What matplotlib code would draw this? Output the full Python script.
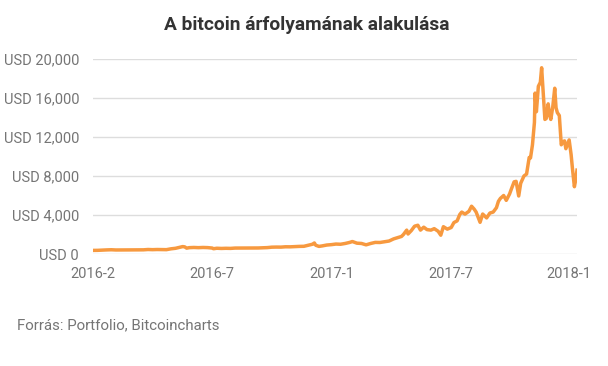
import pandas as pd
import matplotlib
matplotlib.use("Agg")
from matplotlib import pyplot as plt

plt.rcParams['font.family'] = ['Roboto', 'DejaVu Sans']

dates = [
    "2016-02-01", "2016-02-08", "2016-02-15", "2016-02-22", "2016-02-29", "2016-03-07",
    "2016-03-14", "2016-03-21", "2016-03-28", "2016-04-04", "2016-04-11", "2016-04-18",
    "2016-04-25", "2016-05-02", "2016-05-09", "2016-05-16", "2016-05-23", "2016-05-30",
    "2016-06-06", "2016-06-13", "2016-06-17", "2016-06-20", "2016-06-23", "2016-06-27",
    "2016-07-04", "2016-07-11", "2016-07-18", "2016-07-25", "2016-08-01", "2016-08-03",
    "2016-08-08", "2016-08-15", "2016-08-22", "2016-08-29", "2016-09-05", "2016-09-12",
    "2016-09-19", "2016-09-26", "2016-10-03", "2016-10-10", "2016-10-17", "2016-10-24",
    "2016-10-31", "2016-11-07", "2016-11-14", "2016-11-21", "2016-11-28", "2016-12-05",
    "2016-12-12", "2016-12-19", "2016-12-26",
    "2017-01-01", "2017-01-04", "2017-01-06", "2017-01-11", "2017-01-16", "2017-01-23",
    "2017-01-30", "2017-02-06", "2017-02-13", "2017-02-20", "2017-02-27", "2017-03-03",
    "2017-03-10", "2017-03-17", "2017-03-24", "2017-03-31", "2017-04-07", "2017-04-14",
    "2017-04-21", "2017-04-28", "2017-05-05", "2017-05-12", "2017-05-17", "2017-05-20",
    "2017-05-25", "2017-05-27", "2017-06-01", "2017-06-06", "2017-06-11", "2017-06-15",
    "2017-06-20", "2017-06-25", "2017-07-01", "2017-07-06", "2017-07-12", "2017-07-16",
    "2017-07-20", "2017-07-26", "2017-08-01", "2017-08-05", "2017-08-10", "2017-08-14",
    "2017-08-17", "2017-08-22", "2017-08-28", "2017-09-01", "2017-09-05", "2017-09-08",
    "2017-09-14", "2017-09-18", "2017-09-24", "2017-09-29", "2017-10-04", "2017-10-09",
    "2017-10-12", "2017-10-15", "2017-10-20", "2017-10-24", "2017-10-29", "2017-11-01",
    "2017-11-05", "2017-11-08", "2017-11-12", "2017-11-15", "2017-11-20", "2017-11-24",
    "2017-11-28", "2017-11-30", "2017-12-03", "2017-12-06", "2017-12-07", "2017-12-09",
    "2017-12-12", "2017-12-15", "2017-12-17", "2017-12-20", "2017-12-22", "2017-12-24",
    "2017-12-27", "2017-12-29", "2017-12-31",
    "2018-01-03", "2018-01-06", "2018-01-08", "2018-01-10", "2018-01-13", "2018-01-16",
    "2018-01-18", "2018-01-21", "2018-01-23", "2018-01-28", "2018-01-31", "2018-02-02",
    "2018-02-05", "2018-02-07", "2018-02-09",
]
prices = [
    370, 375, 400, 420, 435, 412,
    415, 410, 420, 420, 423, 428,
    462, 445, 460, 455, 445, 530,
    585, 700, 760, 730, 600, 650,
    670, 650, 670, 655, 610, 540,
    590, 570, 585, 575, 608, 608,
    610, 605, 612, 618, 640, 655,
    700, 710, 705, 740, 735, 760,
    780, 790, 900,
    1000, 1130, 900, 780, 830, 920,
    960, 1020, 1000, 1080, 1190, 1280,
    1110, 1080, 940, 1080, 1190, 1180,
    1250, 1330, 1550, 1700, 1800, 2000,
    2450, 2050, 2400, 2850, 2950, 2450,
    2750, 2500, 2450, 2600, 2330, 1930,
    2800, 2550, 2720, 3220, 3400, 4050,
    4300, 4090, 4380, 4900, 4600, 4300,
    3250, 4100, 3700, 4200, 4300, 4750,
    5400, 5700, 6000, 5500, 6150, 6700,
    7400, 7450, 5950, 7250, 8000, 8200,
    9900, 9850, 11200, 13500, 16500, 14600,
    17200, 17600, 19100, 16000, 13800, 13900,
    15400, 14300, 13800,
    15100, 17000, 15000, 14500, 14200, 11200,
    11500, 11600, 10800, 11700, 10200, 8800,
    6900, 7600, 8600,
]

tick_dates = ["2016-02-01", "2016-08-01", "2017-01-30", "2017-07-31", "2018-01-27"]
tick_labels = ["2016-2", "2016-7", "2017-1", "2017-7", "2018-1"]
y_ticks = [0, 4000, 8000, 12000, 16000, 20000]

x = pd.to_datetime(dates)

fig = plt.figure(figsize=(6.08, 3.66), dpi=100)
ax = fig.add_axes([93 / 608, 1 - 254 / 366, 484 / 608, 195 / 366])

ax.plot(x, prices, color="#F7993F", linewidth=2.5, solid_joinstyle="round", zorder=3)

ax.set_xlim(x[0], x[-1])
ax.set_ylim(0, 20000)
ax.set_yticks(y_ticks)
ax.set_yticklabels(["USD {:,}".format(v) for v in y_ticks])
ax.set_xticks(pd.to_datetime(tick_dates))
ax.set_xticklabels(tick_labels)

ax.grid(axis="y", color="#dddddd", linewidth=1)
ax.set_axisbelow(True)
for s in ax.spines.values():
    s.set_visible(False)
ax.tick_params(length=0, labelcolor="#757575", labelsize=10.5)
ax.tick_params(axis="y", pad=10)
ax.tick_params(axis="x", pad=9)

fig.text(0.505, 0.932, "A bitcoin árfolyamának alakulása", ha="center", va="center",
         fontsize=13.8, fontweight="bold", color="#333333")
fig.text(17 / 608, 1 - 325 / 366, "Forrás: Portfolio, Bitcoincharts", ha="left", va="center",
         fontsize=10.8, color="#757575")

fig.savefig("out.png", dpi=100)
